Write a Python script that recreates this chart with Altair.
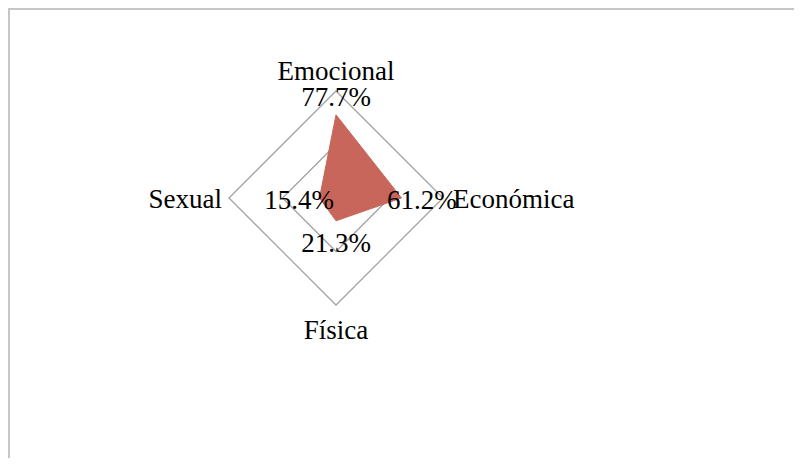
import altair as alt
import pandas as pd

categories = ["Emocional", "Económica", "Física", "Sexual"]
values = [77.7, 61.2, 21.3, 15.4]
grid_levels = [50, 100]

n = len(categories)
df = pd.DataFrame({"idx": list(range(n)), "cat": categories, "val": values,
                   "label": [f"{v:.1f}%" for v in values]})
grid_df = pd.DataFrame([{"level": g, "idx": i} for g in grid_levels for i in range(n)])
frame_df = pd.DataFrame({"k": [0]})

FONT = "Liberation Serif"
FS = 27
xs = alt.Scale(domain=[-1, 1], range=[221, 435], nice=False, zero=False)
ys = alt.Scale(domain=[-1, 1], range=[297, 83], nice=False, zero=False)
X = lambda f: alt.X(f, type="quantitative", scale=xs, axis=None)
Y = lambda f: alt.Y(f, type="quantitative", scale=ys, axis=None)

ang = f"datum.idx * 2 * PI / {n}"

frame = alt.Chart(frame_df).mark_rect(fill=None, stroke="#c6c6c6", strokeWidth=2).encode(
    x=alt.value(1), x2=alt.value(3000), y=alt.value(1), y2=alt.value(3000))

grid = alt.Chart(grid_df).transform_calculate(
    gx=f"datum.level / 100 * sin({ang})", gy=f"datum.level / 100 * cos({ang})"
).mark_line(interpolate="linear-closed", stroke="#a3a3a3", strokeWidth=1.3).encode(
    x=X("gx"), y=Y("gy"), detail="level:N", order="idx:Q")

poly = alt.Chart(df).transform_calculate(
    px=f"datum.val / 100 * sin({ang})", py=f"datum.val / 100 * cos({ang})"
).mark_line(interpolate="linear-closed", fill="#C8665B", stroke="#C8665B", strokeWidth=1).encode(
    x=X("px"), y=Y("py"), order="idx:Q")

vlab = alt.Chart(df).transform_calculate(
    lx=f"(datum.val / 100 + 0.19) * sin({ang})", ly=f"(datum.val / 100 + 0.19) * cos({ang})"
).mark_text(font=FONT, fontSize=FS, color="black", align="center", baseline="middle", dy=3).encode(
    x=X("lx"), y=Y("ly"), text="label:N")

rexpr = "datum.idx == 0 ? 1.19 : datum.idx == 2 ? 1.23 : datum.idx == 1 ? 1.093 : 1.065"
cbase = alt.Chart(df).transform_calculate(
    r=rexpr, s=f"sin({ang})", c=f"cos({ang})"
).transform_calculate(cx="datum.r * datum.s", cy="datum.r * datum.c")

clab_c = cbase.transform_filter("abs(datum.s) < 0.5").mark_text(
    font=FONT, fontSize=FS, color="black", align="center", baseline="middle", dy=1).encode(
    x=X("cx"), y=Y("cy"), text="cat:N")
clab_r = cbase.transform_filter("datum.s > 0.5").mark_text(
    font=FONT, fontSize=FS, color="black", align="left", baseline="middle", dy=2).encode(
    x=X("cx"), y=Y("cy"), text="cat:N")
clab_l = cbase.transform_filter("datum.s < -0.5").mark_text(
    font=FONT, fontSize=FS, color="black", align="right", baseline="middle", dy=2).encode(
    x=X("cx"), y=Y("cy"), text="cat:N")

chart = alt.layer(frame, grid, poly, vlab, clab_c, clab_r, clab_l).properties(
    width=786, height=450, autosize=alt.AutoSizeParams(type="none"), padding=0,
    background="white"
).configure_view(stroke=None)

chart.save("out.html", embed_options={"renderer": "svg", "actions": False})
